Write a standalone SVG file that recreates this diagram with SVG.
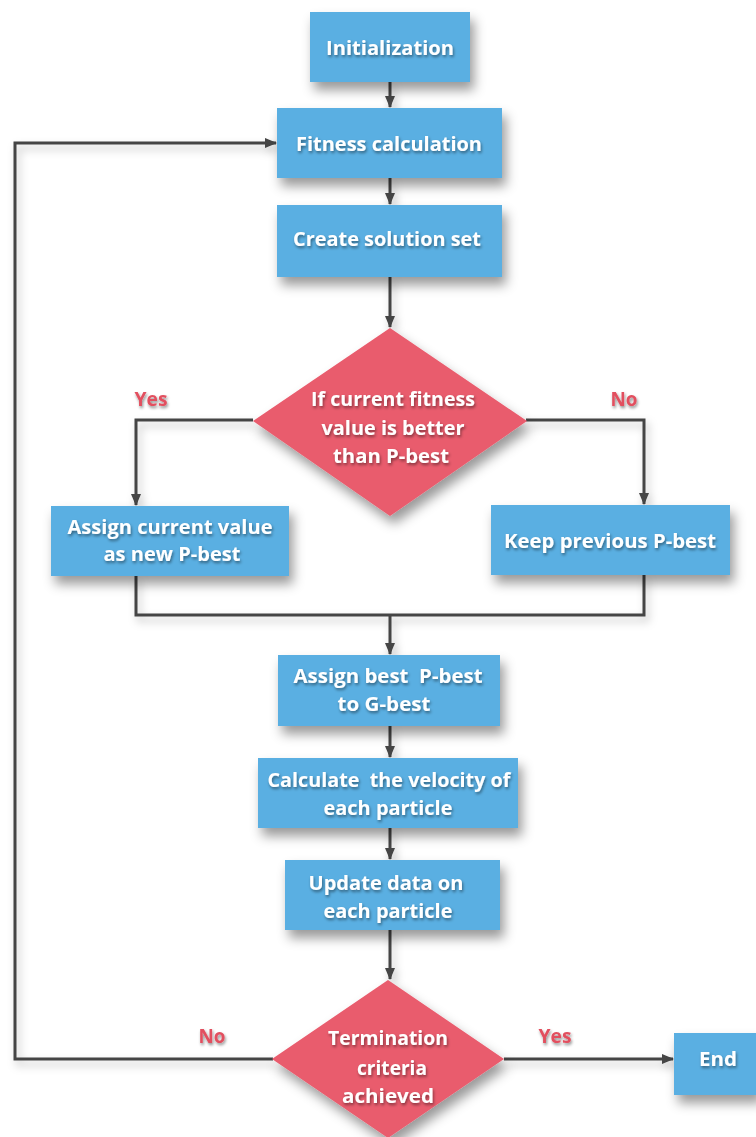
<svg xmlns="http://www.w3.org/2000/svg" width="756" height="1137" viewBox="0 0 756 1137">
<style>
.box{fill:#5aafe2;filter:url(#sh);}
.dia{fill:#e95b6d;filter:url(#sh);}
.t{font-family:"Open Sans","Liberation Sans",sans-serif;font-weight:700;font-size:20px;fill:#ffffff;text-anchor:middle;filter:url(#tsh);white-space:pre;}
.lbl{font-family:"Open Sans","Liberation Sans",sans-serif;font-weight:700;font-size:20px;fill:#e2505f;text-anchor:middle;filter:url(#tsh);}
.ln{fill:none;stroke:#444444;stroke-width:3;}
</style>
<defs>
<filter id="sh" x="-20%" y="-20%" width="150%" height="160%">
<feDropShadow dx="4" dy="8" stdDeviation="6" flood-color="#000000" flood-opacity="0.4"/>
</filter>
<filter id="lsh" x="-10%" y="-10%" width="130%" height="130%">
<feDropShadow dx="3" dy="5" stdDeviation="4" flood-color="#000000" flood-opacity="0.25"/>
</filter>
<filter id="tsh" x="-10%" y="-30%" width="130%" height="170%">
<feDropShadow dx="1" dy="2" stdDeviation="1.5" flood-color="#000000" flood-opacity="0.45"/>
</filter>
<marker id="ah" markerWidth="12" markerHeight="10" refX="11" refY="5" orient="auto" markerUnits="userSpaceOnUse">
<path d="M0,0 L12,5 L0,10 Z" fill="#444444"/>
</marker>
</defs>
<rect width="756" height="1137" fill="#ffffff"/>
<g id="connectors" filter="url(#lsh)">
<path class="ln" d="M390,82 L390,107" marker-end="url(#ah)"/>
<path class="ln" d="M390,178 L390,204" marker-end="url(#ah)"/>
<path class="ln" d="M390,277 L390,327" marker-end="url(#ah)"/>
<path class="ln" d="M253,420 L136,420 L136,505" marker-end="url(#ah)"/>
<path class="ln" d="M526,420 L644,420 L644,504" marker-end="url(#ah)"/>
<path class="ln" d="M136,576 L136,615 L644,615 L644,575"/>
<path class="ln" d="M390,615 L390,654" marker-end="url(#ah)"/>
<path class="ln" d="M390,726 L390,757" marker-end="url(#ah)"/>
<path class="ln" d="M390,828 L390,859" marker-end="url(#ah)"/>
<path class="ln" d="M390,930 L390,979" marker-end="url(#ah)"/>
<path class="ln" d="M273,1059 L15,1059 L15,143 L276,143" marker-end="url(#ah)"/>
<path class="ln" d="M504,1059 L673,1059" marker-end="url(#ah)"/>
</g>
<g id="init"><rect class="box" x="310" y="12" width="160" height="70"/><text class="t" x="390" y="55" textLength="128" lengthAdjust="spacingAndGlyphs">Initialization</text></g>
<g id="fitness"><rect class="box" x="277" y="108" width="225" height="70"/><text class="t" x="389" y="151" textLength="186" lengthAdjust="spacingAndGlyphs">Fitness calculation</text></g>
<g id="create"><rect class="box" x="277" y="205" width="225" height="72"/><text class="t" x="387" y="246" textLength="188" lengthAdjust="spacingAndGlyphs">Create solution set</text></g>
<g id="dec1"><polygon class="dia" points="390,328 527,421 390,516 253,421"/>
<text class="t" x="393" y="406" textLength="164" lengthAdjust="spacingAndGlyphs">If current fitness</text>
<text class="t" x="393" y="435" textLength="143" lengthAdjust="spacingAndGlyphs">value is better</text>
<text class="t" x="391" y="463" textLength="116" lengthAdjust="spacingAndGlyphs">than P-best</text></g>
<text class="lbl" x="151" y="406" textLength="33" lengthAdjust="spacingAndGlyphs">Yes</text>
<text class="lbl" x="624" y="406" textLength="27" lengthAdjust="spacingAndGlyphs">No</text>
<g id="assigncur"><rect class="box" x="51" y="506" width="238" height="70"/>
<text class="t" x="170" y="534" textLength="205" lengthAdjust="spacingAndGlyphs">Assign current value</text>
<text class="t" x="172" y="561" textLength="137" lengthAdjust="spacingAndGlyphs">as new P-best</text></g>
<g id="keep"><rect class="box" x="491" y="505" width="239" height="70"/>
<text class="t" x="610" y="548" textLength="212" lengthAdjust="spacingAndGlyphs">Keep previous P-best</text></g>
<g id="assignbest"><rect class="box" x="278" y="655" width="222" height="71"/>
<text class="t" x="388" y="683" textLength="189" lengthAdjust="spacingAndGlyphs">Assign best  P-best</text>
<text class="t" x="384" y="711" textLength="93" lengthAdjust="spacingAndGlyphs">to G-best</text></g>
<g id="velocity"><rect class="box" x="258" y="758" width="260" height="70"/>
<text class="t" x="389" y="787" textLength="243" lengthAdjust="spacingAndGlyphs">Calculate  the velocity of</text>
<text class="t" x="388" y="815" textLength="129" lengthAdjust="spacingAndGlyphs">each particle</text></g>
<g id="update"><rect class="box" x="285" y="860" width="215" height="70"/>
<text class="t" x="386" y="890" textLength="155" lengthAdjust="spacingAndGlyphs">Update data on</text>
<text class="t" x="388" y="918" textLength="129" lengthAdjust="spacingAndGlyphs">each particle</text></g>
<g id="dec2"><polygon class="dia" points="388,980 504,1059 388,1138 272,1059"/>
<text class="t" x="388" y="1045" textLength="120" lengthAdjust="spacingAndGlyphs">Termination</text>
<text class="t" x="392" y="1075" textLength="70" lengthAdjust="spacingAndGlyphs">criteria</text>
<text class="t" x="388" y="1103" textLength="92" lengthAdjust="spacingAndGlyphs">achieved</text></g>
<text class="lbl" x="212" y="1043" textLength="27" lengthAdjust="spacingAndGlyphs">No</text>
<text class="lbl" x="555" y="1043" textLength="33" lengthAdjust="spacingAndGlyphs">Yes</text>
<g id="end"><rect class="box" x="674" y="1033" width="84" height="62"/>
<text class="t" x="718" y="1066" textLength="38" lengthAdjust="spacingAndGlyphs">End</text></g>
</svg>
